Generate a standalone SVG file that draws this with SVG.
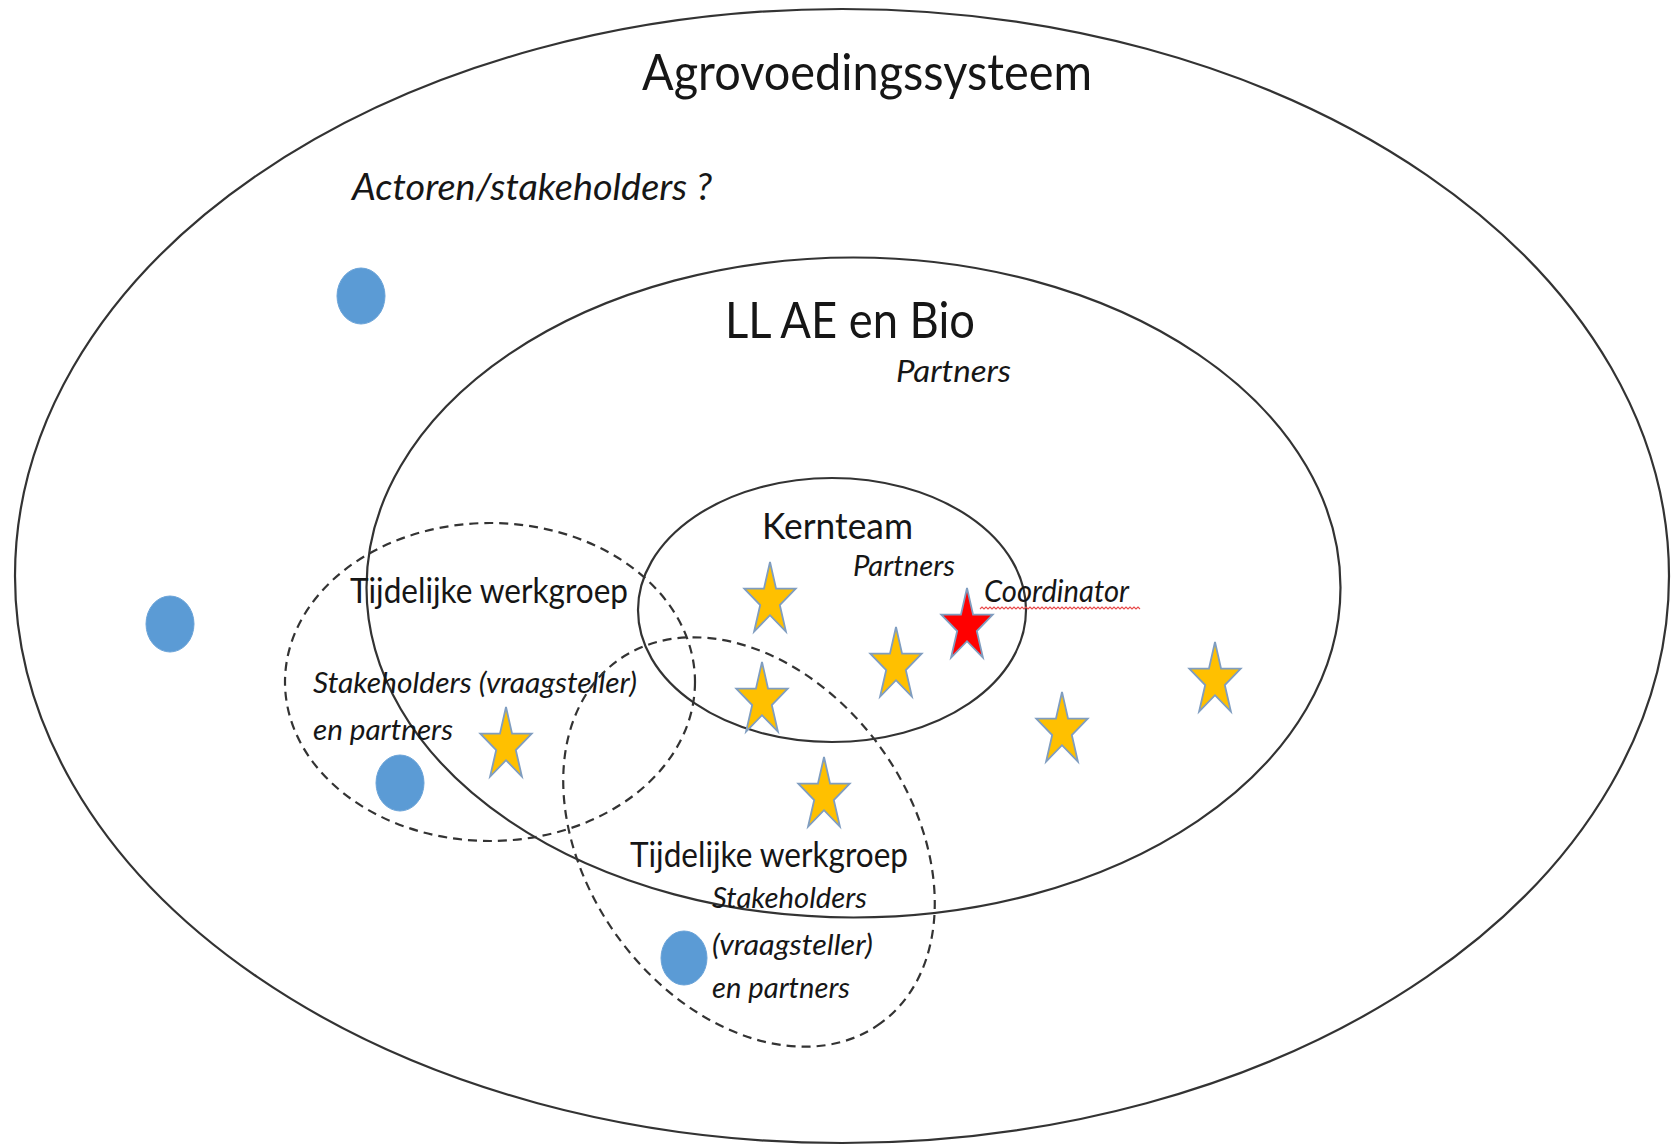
<svg xmlns="http://www.w3.org/2000/svg" xmlns:xlink="http://www.w3.org/1999/xlink" width="1671" height="1146" viewBox="0 0 1671 1146">
<style>
  .ring { fill: none; stroke: #333333; stroke-width: 2.2; }
  .dash { fill: none; stroke: #333333; stroke-width: 2.2; stroke-dasharray: 9 6; }
  .actor { fill: #5B9BD5; stroke: #6aa3d8; stroke-width: 1; }
  .star { fill: #FFC000; stroke: #7F9DC0; stroke-width: 1.8; stroke-linejoin: miter; }
  .star.coord { fill: #FF0000; }
  text { font-family: Lato, "Liberation Sans", sans-serif; fill: #161616; }
  .it { font-style: italic; }
  .wavy { fill: none; stroke: #e84a4a; stroke-width: 1.1; }
</style>
<defs>
  <path id="star" d="M0,-38.5 L6.06,-11.9 L25.7,-11.9 L9.8,4.5 L15.9,31.1 L0,14.7 L-15.9,31.1 L-9.8,4.5 L-25.7,-11.9 L-6.06,-11.9 Z"/>
</defs>
<rect width="1671" height="1146" fill="#ffffff"/>

<g id="agrovoedingssysteem">
  <ellipse class="ring" cx="842" cy="576" rx="827" ry="567"/>
  <text x="642" y="90" font-size="51" textLength="450" lengthAdjust="spacingAndGlyphs">Agrovoedingssysteem</text>
  <text class="it" x="352" y="200" font-size="36" textLength="360" lengthAdjust="spacingAndGlyphs">Actoren/stakeholders ?</text>
</g>

<g id="ll-ae-en-bio">
  <ellipse class="ring" cx="853.5" cy="587.5" rx="487" ry="330"/>
  <text x="725" y="338" font-size="51" textLength="250" lengthAdjust="spacingAndGlyphs">LL AE en Bio</text>
  <text class="it" x="896" y="382" font-size="31" textLength="115" lengthAdjust="spacingAndGlyphs">Partners</text>
</g>

<g id="kernteam">
  <ellipse class="ring" cx="832" cy="610" rx="194" ry="132"/>
  <text x="762" y="539" font-size="37" textLength="151" lengthAdjust="spacingAndGlyphs">Kernteam</text>
  <text class="it" x="853" y="576" font-size="29" textLength="102" lengthAdjust="spacingAndGlyphs">Partners</text>
</g>

<g id="werkgroep-1">
  <ellipse class="dash" cx="490" cy="682" rx="205" ry="159"/>
  <text x="350" y="603" font-size="34" textLength="278" lengthAdjust="spacingAndGlyphs">Tijdelijke werkgroep</text>
  <text class="it" x="313" y="693" font-size="29" textLength="324" lengthAdjust="spacingAndGlyphs">Stakeholders (vraagsteller)</text>
  <text class="it" x="313" y="740" font-size="29" textLength="140" lengthAdjust="spacingAndGlyphs">en partners</text>
</g>

<g id="werkgroep-2">
  <ellipse class="dash" cx="749" cy="842" rx="224" ry="162" transform="rotate(54 749 842)"/>
  <text x="630" y="867" font-size="34" textLength="278" lengthAdjust="spacingAndGlyphs">Tijdelijke werkgroep</text>
  <text class="it" x="712" y="908" font-size="29" textLength="155" lengthAdjust="spacingAndGlyphs">Stakeholders</text>
  <text class="it" x="712" y="955" font-size="29" textLength="161" lengthAdjust="spacingAndGlyphs">(vraagsteller)</text>
  <text class="it" x="712" y="998" font-size="29" textLength="138" lengthAdjust="spacingAndGlyphs">en partners</text>
</g>

<g id="actors">
  <ellipse id="actor-1" class="actor" cx="361" cy="296" rx="24" ry="28"/>
  <ellipse id="actor-2" class="actor" cx="170" cy="624" rx="24" ry="28"/>
  <ellipse id="actor-3" class="actor" cx="400" cy="783" rx="24" ry="28"/>
  <ellipse id="actor-4" class="actor" cx="684" cy="958" rx="23" ry="27"/>
</g>

<g id="partners">
  <use id="partner-1" class="star" href="#star" xlink:href="#star" x="770" y="600.5"/>
  <use id="partner-2" class="star" href="#star" xlink:href="#star" x="896" y="665.5"/>
  <use id="partner-3" class="star" href="#star" xlink:href="#star" x="762" y="700.5"/>
  <use id="partner-4" class="star" href="#star" xlink:href="#star" x="824" y="795.5"/>
  <use id="partner-5" class="star" href="#star" xlink:href="#star" x="1062" y="730.5"/>
  <use id="partner-6" class="star" href="#star" xlink:href="#star" x="1215" y="680.5"/>
  <use id="partner-7" class="star" href="#star" xlink:href="#star" x="506" y="745.5"/>
</g>

<g id="coordinator">
  <use class="star coord" href="#star" xlink:href="#star" x="967" y="626.5"/>
  <text class="it" x="984" y="602" font-size="31" textLength="145" lengthAdjust="spacingAndGlyphs">Coordinator</text>
  <path class="wavy" d="M980,609 l2,-2 2,2 2,-2 2,2 2,-2 2,2 2,-2 2,2 2,-2 2,2 2,-2 2,2 2,-2 2,2 2,-2 2,2 2,-2 2,2 2,-2 2,2 2,-2 2,2 2,-2 2,2 2,-2 2,2 2,-2 2,2 2,-2 2,2 2,-2 2,2 2,-2 2,2 2,-2 2,2 2,-2 2,2 2,-2 2,2 2,-2 2,2 2,-2 2,2 2,-2 2,2 2,-2 2,2 2,-2 2,2 2,-2 2,2 2,-2 2,2 2,-2 2,2 2,-2 2,2 2,-2 2,2 2,-2 2,2 2,-2 2,2 2,-2 2,2 2,-2 2,2 2,-2 2,2 2,-2 2,2 2,-2 2,2 2,-2 2,2 2,-2 2,2 2,-2 2,2"/>
</g>
</svg>
